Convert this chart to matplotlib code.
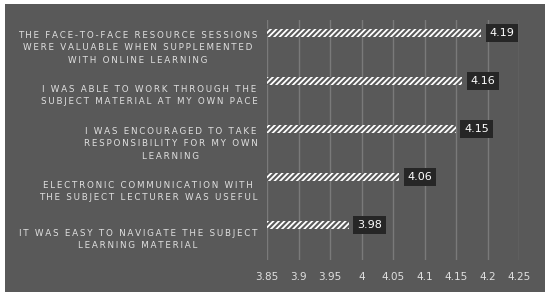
import matplotlib
matplotlib.use("Agg")
from matplotlib import pyplot as plt
from matplotlib.patches import Rectangle
from matplotlib.transforms import ScaledTranslation

statements = [
    "THE FACE-TO-FACE RESOURCE SESSIONS\nWERE VALUABLE WHEN SUPPLEMENTED\nWITH ONLINE LEARNING",
    "I WAS ABLE TO WORK THROUGH THE\nSUBJECT MATERIAL AT MY OWN PACE",
    "I WAS ENCOURAGED TO TAKE\nRESPONSIBILITY FOR MY OWN\nLEARNING",
    "ELECTRONIC COMMUNICATION WITH\nTHE SUBJECT LECTURER WAS USEFUL",
    "IT WAS EASY TO NAVIGATE THE SUBJECT\nLEARNING MATERIAL",
]
scores = [4.19, 4.16, 4.15, 4.06, 3.98]
x_ticks = [3.85, 3.9, 3.95, 4, 4.05, 4.1, 4.15, 4.2, 4.25]
x_tick_labels = ["3.85", "3.9", "3.95", "4", "4.05", "4.1", "4.15", "4.2", "4.25"]

bg = "#595959"
txt = "#e0e0e0"
grid = "#7a7a7a"


def spaced(s):
    # fake letter spacing with thin spaces
    return "\n".join("\u2009".join(line) for line in s.split("\n"))


plt.rcParams["hatch.linewidth"] = 1.3
plt.rcParams["font.family"] = "DejaVu Sans"

fig = plt.figure(figsize=(5.5, 2.96), dpi=100)
fig.patch.set_facecolor("white")
fig.add_artist(Rectangle((5 / 550, 1 - 292 / 296), 540 / 550, 288 / 296,
                         transform=fig.transFigure, facecolor=bg, edgecolor="none", zorder=0))

ax = fig.add_axes([267 / 550, 1 - 260 / 296, (519 - 267) / 550, 240 / 296])
ax.set_facecolor("none")

ypos = list(range(len(scores)))
ax.barh(ypos, [s - 3.85 for s in scores], left=3.85, height=0.15,
        color=bg, edgecolor="white", hatch="//////", linewidth=0, zorder=3)

for y, s in zip(ypos, scores):
    ax.text(s + 0.013, y, f"{s:.2f}", va="center", ha="left", color="white", fontsize=8,
            bbox=dict(boxstyle="square,pad=0.35", facecolor="#262626", edgecolor="none"), zorder=4)

ax.set_xlim(3.85, 4.25)
ax.set_ylim(4.73, -0.27)
ax.set_xticks(x_ticks)
ax.set_xticklabels(x_tick_labels)
ax.set_yticks(ypos)
ax.set_yticklabels([spaced(s) for s in statements], fontsize=6.3, color=txt,
                   ha="right", multialignment="center", linespacing=1.5)
ax.tick_params(axis="y", length=0, pad=7)
ax.tick_params(axis="x", length=0, pad=9, labelsize=7.5, labelcolor=txt)
ax.grid(axis="x", color=grid, linewidth=1, zorder=1)
for sp in ax.spines.values():
    sp.set_visible(False)

# category labels sit a little below their bars in the original
shift = ScaledTranslation(0, -12 / 100, fig.dpi_scale_trans)
for lbl in ax.get_yticklabels():
    lbl.set_transform(lbl.get_transform() + shift)

fig.savefig("out.png", dpi=100, facecolor=fig.get_facecolor())
